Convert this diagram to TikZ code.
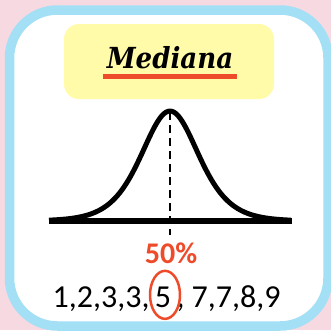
\documentclass[tikz,border=0pt]{standalone}
\usepackage{fontspec}
\setmainfont{Carlito}
\newfontfamily\titlefont{DejaVu Serif}[FakeStretch=0.9]
\usetikzlibrary{positioning}
\definecolor{bgpink}{HTML}{F6D9E1}
\definecolor{frameblue}{HTML}{A3E0F5}
\definecolor{titleyellow}{HTML}{FFFBA9}
\definecolor{markred}{HTML}{EE4B2B}

\begin{document}
\begin{tikzpicture}[
  x=1pt,y=-1pt,
  card/.style={draw=frameblue,fill=white,line width=9.5pt,rounded corners=48pt},
  banner/.style={fill=titleyellow,rounded corners=15pt},
  bell/.style={line width=5pt,line join=round},
  axisline/.style={line width=6pt},
  median/.style={line width=2pt,dash pattern=on 8pt off 5pt},
  ring/.style={draw=markred,line width=2.5pt},
  title/.style={font=\titlefont\bfseries\itshape\fontsize{29}{33}\selectfont,inner sep=0pt},
  pct/.style={font=\bfseries\fontsize{30}{35}\selectfont,text=markred,inner sep=0pt},
  nums/.style={font=\fontsize{32}{38}\selectfont,inner sep=0pt},
]
\fill[bgpink] (0,0) rectangle (331,330);
\useasboundingbox (0,0) rectangle (331,330);
\draw[card] (9.5,10) rectangle (328,326);

% title
\fill[banner] (64,24) rectangle (274,99);
\node[title,anchor=base] (title) at (170,68) {Mediana};
\draw[markred,line width=5pt] ([xshift=-4pt,yshift=-8pt]title.base west) -- ([xshift=4pt,yshift=-8pt]title.base east);

% distribution
\draw[bell] plot[domain=-121:121,samples=121,smooth] ({170+\x},{221-110/(cosh(\x/38.6)*cosh(\x/38.6))});
\draw[axisline] (49,221) -- (292,221);
\draw[median] (170,112) -- (170,235);
\node[pct,anchor=base] (half) at (171,263) {50\%};

% data
\node[nums,anchor=base,inner xsep=5pt] (five) at (163,307) {5};
\node[nums,anchor=base east] (lower) at (five.base west) {1,2,3,3,};
\node[nums,anchor=base west] (upper) at (five.base east) {, 7,7,8,9};
\draw[ring] ([xshift=2pt,yshift=2pt]five.center) ellipse [x radius=15,y radius=24];
\end{tikzpicture}
\end{document}
